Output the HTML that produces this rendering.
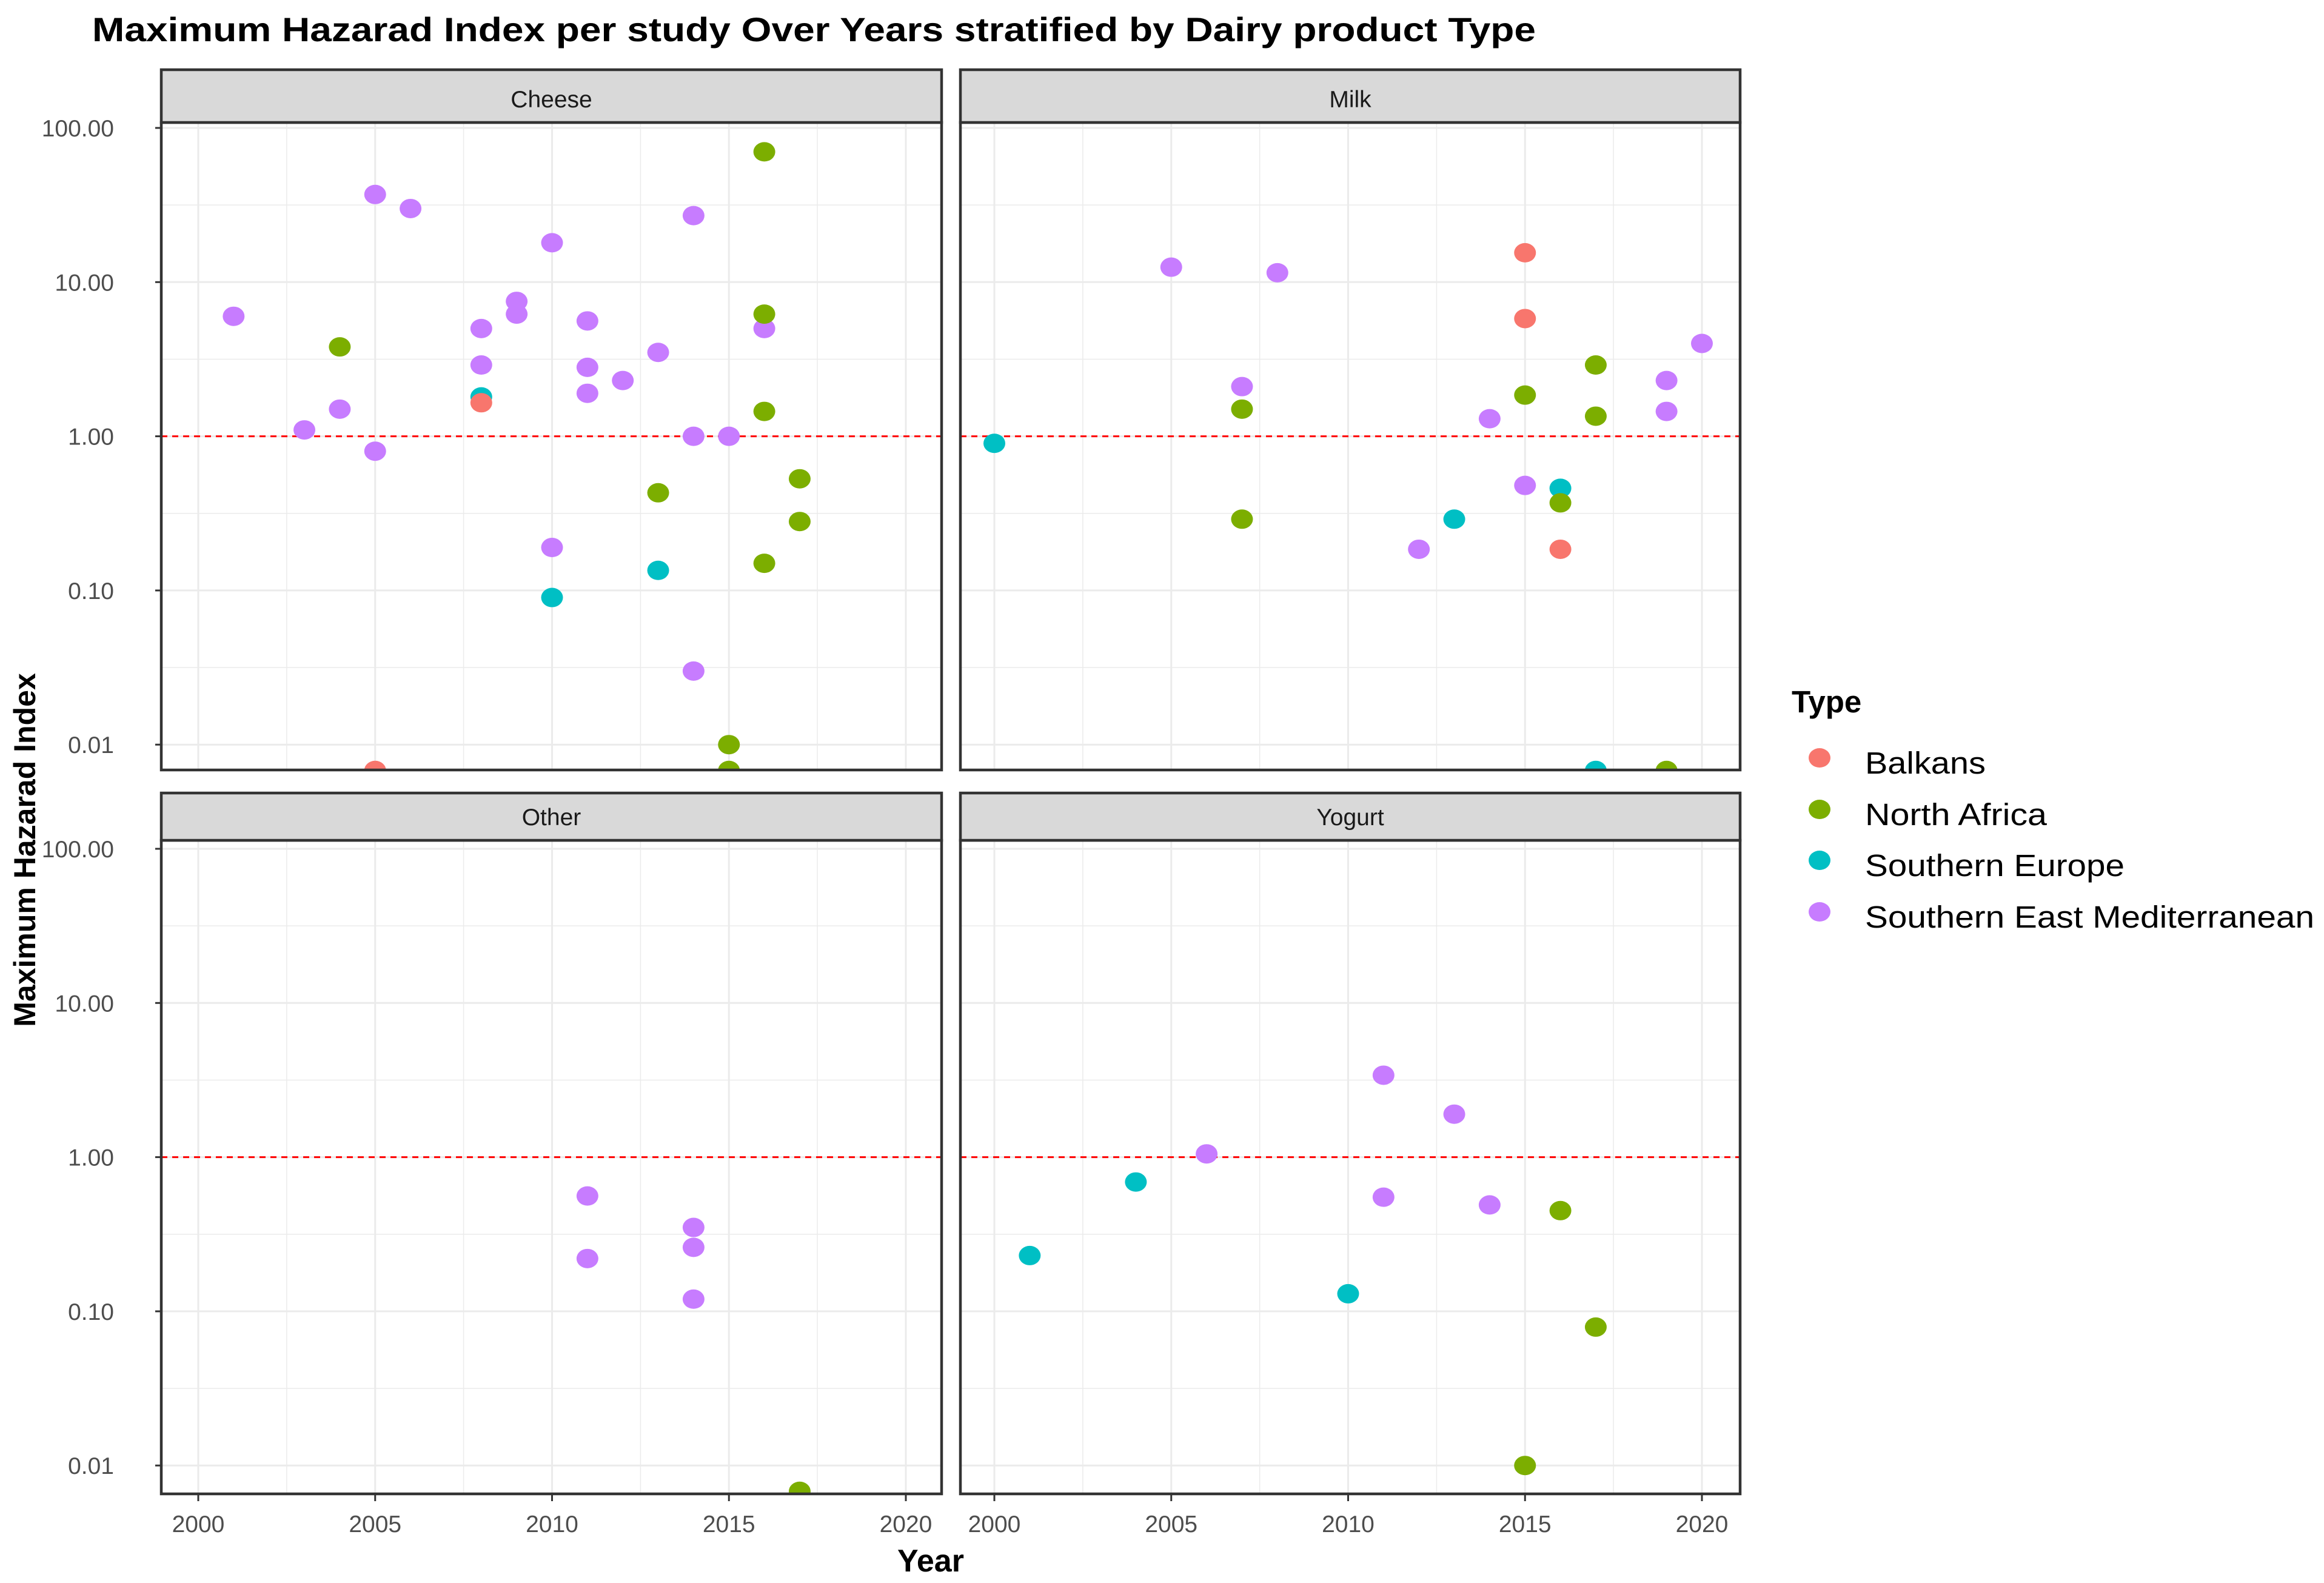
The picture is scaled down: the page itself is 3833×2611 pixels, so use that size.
<!DOCTYPE html>
<html><head><meta charset="utf-8"><style>
html,body{margin:0;padding:0;background:#fff;}
svg{display:block;font-family:"Liberation Sans",Arial,sans-serif;}
</style></head><body>
<svg id="chart" xmlns="http://www.w3.org/2000/svg" width="3833" height="2611" viewBox="0 0 3833 2611">
<rect width="3833" height="2611" fill="#fff"/>
<text x="152" y="68" font-size="56" font-weight="bold" textLength="2381" lengthAdjust="spacingAndGlyphs">Maximum Hazarad Index per study Over Years stratified by Dairy product Type</text>
<text x="1535" y="2592" font-size="52" font-weight="bold" text-anchor="middle">Year</text>
<text transform="translate(58,1402) rotate(-90)" font-size="50" font-weight="bold" text-anchor="middle">Maximum Hazarad Index</text>
<g id="panels"></g>
<g id="legend">
<text x="2955" y="1175" font-size="51" font-weight="bold">Type</text>
</g>
</svg>
<script>
const regions = ["Balkans","North Africa","Southern Europe","Southern East Mediterranean"];
const colors = ["#F8766D","#7CAE00","#00BFC4","#C77CFF"];
const panelNames = ["Cheese","Milk","Other","Yogurt"];
const yTicks = [0.01,0.1,1,10,100];
const yTickLabels = ["0.01","0.10","1.00","10.00","100.00"];
const xTicks = [2000,2005,2010,2015,2020];
const refLine = 1;
// [panel index, region index, year, value]
const cheeseData = [
[0,3,2001,6.0],[0,3,2003,1.1],[0,3,2004,1.5],[0,3,2005,37],[0,3,2005,0.8],[0,3,2006,30],[0,3,2008,5.0],[0,3,2008,2.9],[0,3,2009,7.5],[0,3,2009,6.2],[0,3,2010,18],[0,3,2010,0.19],[0,3,2011,5.6],[0,3,2011,2.8],[0,3,2011,1.9],[0,3,2012,2.3],[0,3,2013,3.5],[0,3,2014,27],[0,3,2014,1.0],[0,3,2014,0.03],[0,3,2015,1.0],[0,3,2016,5.0],
[0,1,2004,3.8],[0,1,2013,0.43],[0,1,2015,0.01],[0,1,2015,0.0068],[0,1,2016,70],[0,1,2016,6.2],[0,1,2016,1.45],[0,1,2016,0.15],[0,1,2017,0.53],[0,1,2017,0.28],
[0,2,2008,1.8],[0,2,2010,0.09],[0,2,2013,0.135],
[0,0,2008,1.65],[0,0,2005,0.0068]];
const milkData = [
[1,2,2000,0.9],[1,2,2013,0.29],[1,2,2016,0.46],[1,2,2017,0.0068],
[1,0,2015,15.5],[1,0,2015,5.8],[1,0,2016,0.185],
[1,1,2007,1.5],[1,1,2007,0.29],[1,1,2015,1.85],[1,1,2016,0.37],[1,1,2017,2.9],[1,1,2017,1.35],[1,1,2019,0.0068],
[1,3,2005,12.5],[1,3,2007,2.1],[1,3,2008,11.5],[1,3,2012,0.185],[1,3,2014,1.3],[1,3,2015,0.48],[1,3,2019,2.3],[1,3,2019,1.45],[1,3,2020,4.0]];
const otherData = [
[2,3,2011,0.56],[2,3,2011,0.22],[2,3,2014,0.35],[2,3,2014,0.26],[2,3,2014,0.12],[2,1,2017,0.0068]];
const yogurtData = [
[3,2,2001,0.23],[3,2,2004,0.69],[3,2,2010,0.13],
[3,3,2006,1.05],[3,3,2011,3.4],[3,3,2013,1.9],[3,3,2011,0.55],[3,3,2014,0.49],
[3,1,2016,0.45],[3,1,2017,0.079],[3,1,2015,0.01]];

const NS="http://www.w3.org/2000/svg";
function mk(tag,attrs,parent){const e=document.createElementNS(NS,tag);for(const k in attrs)e.setAttribute(k,attrs[k]);parent.appendChild(e);return e;}
const layout=[
 {x0:266,x1:1553,x2000:327,top:202,bottom:1270,y100:211,stripTop:115},
 {x0:1584,x1:2870,x2000:1640,top:202,bottom:1270,y100:211,stripTop:115},
 {x0:266,x1:1553,x2000:327,top:1386,bottom:2464,y100:1400,stripTop:1308},
 {x0:1584,x1:2870,x2000:1640,top:1386,bottom:2464,y100:1400,stripTop:1308}];
const perYear=58.35, perDecade=254.3;
function xScale(p,yr){return layout[p].x2000+(yr-2000)*perYear;}
function yScale(p,v){return layout[p].y100+(2-Math.log10(v))*perDecade;}
const root=document.getElementById('panels');
const defs=mk('defs',{},root);
panelNames.forEach((name,p)=>{
  const L=layout[p];
  const cp=mk('clipPath',{id:'clip'+p},defs);
  mk('rect',{x:L.x0,y:L.top,width:L.x1-L.x0,height:L.bottom-L.top},cp);
  const g=mk('g',{},root);
  
  
  for(let yr=1997.5;yr<=2022.5;yr+=5){const x=xScale(p,yr);if(x>L.x0&&x<L.x1)mk('line',{x1:x,x2:x,y1:L.top,y2:L.bottom,stroke:'#ebebeb','stroke-width':1.5},g);}
  for(let e=-2.5;e<=2.5;e+=1){const y=yScale(p,Math.pow(10,e));if(y>L.top&&y<L.bottom)mk('line',{x1:L.x0,x2:L.x1,y1:y,y2:y,stroke:'#ebebeb','stroke-width':1.5},g);}
  xTicks.forEach(t=>{const x=xScale(p,t);mk('line',{x1:x,x2:x,y1:L.top,y2:L.bottom,stroke:'#ebebeb','stroke-width':3},g);});
  yTicks.forEach(t=>{const y=yScale(p,t);mk('line',{x1:L.x0,x2:L.x1,y1:y,y2:y,stroke:'#ebebeb','stroke-width':3},g);});
  const rl=mk('line',{x1:L.x0,x2:L.x1,y1:yScale(p,refLine),y2:yScale(p,refLine),stroke:'#ff0000','stroke-width':3,'stroke-dasharray':'10 8'},g);
  
  
  const all=[cheeseData,milkData,otherData,yogurtData][p];
  const pg=mk('g',{'clip-path':'url(#clip'+p+')'},g);
  all.forEach(d=>{
    const c=mk('ellipse',{cx:xScale(p,d[2]),cy:yScale(p,d[3]),rx:18,ry:16,fill:colors[d[1]]},pg);
    
    
  });
  mk('rect',{x:L.x0,y:L.top,width:L.x1-L.x0,height:L.bottom-L.top,fill:'none',stroke:'#333','stroke-width':4.5},g);
  const s=mk('rect',{x:L.x0,y:L.stripTop,width:L.x1-L.x0,height:L.top-L.stripTop,fill:'#d9d9d9',stroke:'#333','stroke-width':4.5},g);
  
  
  const st=mk('text',{x:(L.x0+L.x1)/2,y:L.top-25,'font-size':39,'text-anchor':'middle',fill:'#1a1a1a'},g);
  st.textContent=name;
  
  
  if(p%2===0){yTicks.forEach((t,i)=>{const y=yScale(p,t);
    mk('line',{x1:L.x0-10,x2:L.x0,y1:y,y2:y,stroke:'#333','stroke-width':3},g);
    const tx=mk('text',{x:188,y:y+14,'font-size':39,'text-anchor':'end',fill:'#4d4d4d'},g);
    tx.textContent=yTickLabels[i];
    
    });}
  if(p>=2){xTicks.forEach(t=>{const x=xScale(p,t);
    mk('line',{x1:x,x2:x,y1:L.bottom,y2:L.bottom+12,stroke:'#333','stroke-width':3},g);
    const tx=mk('text',{x:x,y:2527,'font-size':39,'text-anchor':'middle',fill:'#4d4d4d'},g);
    tx.textContent=t;
    
    });}
});
const lg=document.getElementById('legend');
const lgY=[1250,1335,1419,1504];
const lgW=[199,300,428,741];
regions.forEach((r,i)=>{
  const c=mk('ellipse',{cx:3001,cy:lgY[i],rx:18,ry:16,fill:colors[i]},lg);
  
  
  const t=mk('text',{x:3076,y:lgY[i]+26,'font-size':51,fill:'#000',textLength:lgW[i],lengthAdjust:'spacingAndGlyphs'},lg);
  t.textContent=r;
  
  
});
</script>
</body></html>
